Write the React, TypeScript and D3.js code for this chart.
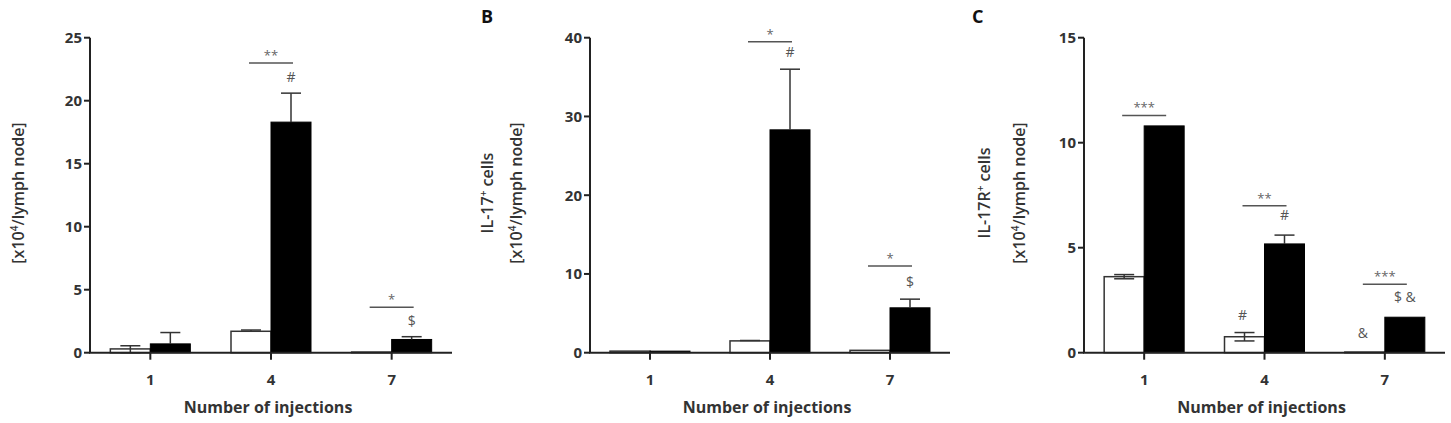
import React from "react";
import * as d3 from "d3";

const categories = ["1", "4", "7"];

// Panel A
const aWhite = [0.3, 1.7, 0.05];
const aWhiteUp = [0.25, 0.1, 0];
const aWhiteDown = [0.3, 0, 0];
const aBlack = [0.7, 18.3, 1.05];
const aBlackUp = [0.9, 2.3, 0.22];
const aTicks = [0, 5, 10, 15, 20, 25];

// Panel B
const bWhite = [0.2, 1.5, 0.3];
const bWhiteUp = [0, 0.05, 0];
const bWhiteDown = [0, 0, 0];
const bBlack = [0.2, 28.3, 5.7];
const bBlackUp = [0, 7.7, 1.1];
const bTicks = [0, 10, 20, 30, 40];

// Panel C
const cWhite = [3.62, 0.76, 0.03];
const cWhiteUp = [0.1, 0.2, 0];
const cWhiteDown = [0.1, 0.2, 0];
const cBlack = [10.8, 5.18, 1.69];
const cBlackUp = [0, 0.42, 0];
const cTicks = [0, 5, 10, 15];

type Annot = { cat: string; stars: string; lineVal: number; marksBlack?: string; marksBlackVal?: number; marksWhite?: string; marksWhiteVal?: number };

const aAnnots: Annot[] = [
  { cat: "4", stars: "**", lineVal: 23.0, marksBlack: "#", marksBlackVal: 21.5 },
  { cat: "7", stars: "*", lineVal: 3.6, marksBlack: "$", marksBlackVal: 2.1 },
];
const bAnnots: Annot[] = [
  { cat: "4", stars: "*", lineVal: 39.5, marksBlack: "#", marksBlackVal: 37.5 },
  { cat: "7", stars: "*", lineVal: 11.0, marksBlack: "$", marksBlackVal: 8.4 },
];
const cAnnots: Annot[] = [
  { cat: "1", stars: "***", lineVal: 11.3, marksBlack: "", marksBlackVal: 0 },
  { cat: "4", stars: "**", lineVal: 7.0, marksBlack: "#", marksBlackVal: 6.3, marksWhite: "#", marksWhiteVal: 1.55 },
  { cat: "7", stars: "***", lineVal: 3.26, marksBlack: "$ &", marksBlackVal: 2.42, marksWhite: "&", marksWhiteVal: 0.7 },
];

const FONT = "'Open Sans', Lato, sans-serif";
const Y_TOP = 37.7;
const Y_BOT = 352.7;
const BAR_W = 40;

type PanelProps = {
  letter: string;
  letterX: number;
  x0: number;
  x1: number;
  yMax: number;
  ticks: number[];
  white: number[];
  whiteUp: number[];
  whiteDown: number[];
  black: number[];
  blackUp: number[];
  annots: Annot[];
  labelLines: { x: number; kind: "il17" | "il17r" | "unit" }[];
};

function Panel(p: PanelProps) {
  const x = d3.scalePoint<string>().domain(categories).range([p.x0, p.x1]).padding(0.5);
  const y = d3.scaleLinear().domain([0, p.yMax]).range([Y_BOT, Y_TOP]);
  const sub = d3.scaleBand<string>().domain(["white", "black"]).range([-BAR_W, BAR_W]);
  const axisColor = "#222";
  const errColor = "#333";
  const labelCenterY = 193;
  const titleX = (p.x0 + p.x1) / 2 - 3;

  const errBar = (cx: number, v: number, up: number, down: number, key: string) => (
    <g key={key} stroke={errColor} strokeWidth={1.5}>
      {up > 0 && (
        <>
          <line x1={cx} x2={cx} y1={y(v)} y2={y(v + up)} />
          <line x1={cx - 10} x2={cx + 10} y1={y(v + up)} y2={y(v + up)} />
        </>
      )}
      {down > 0 && (
        <>
          <line x1={cx} x2={cx} y1={y(v)} y2={y(v - down)} />
          <line x1={cx - 10} x2={cx + 10} y1={y(v - down)} y2={y(v - down)} />
        </>
      )}
    </g>
  );

  return (
    <g>
      {p.letter && (
        <text x={p.letterX} y={23} fontFamily={FONT} fontWeight={700} fontSize={18} fill="#111">
          {p.letter}
        </text>
      )}
      {p.labelLines.map((l, i) => (
        <text
          key={i}
          transform={`translate(${l.x},${labelCenterY}) rotate(-90)`}
          textAnchor="middle"
          fontFamily={FONT}
          fontWeight={600}
          fontSize={16}
          fill="#333"
        >
          {l.kind === "unit" ? (
            <>
              [x10<tspan dy={-6} fontSize={10}>4</tspan>
              <tspan dy={6}>/lymph node]</tspan>
            </>
          ) : l.kind === "il17" ? (
            <>
              IL-17<tspan dy={-6} fontSize={10}>+</tspan>
              <tspan dy={6}> cells</tspan>
            </>
          ) : (
            <>
              IL-17R<tspan dy={-6} fontSize={10}>+</tspan>
              <tspan dy={6}> cells</tspan>
            </>
          )}
        </text>
      ))}
      {categories.map((c, i) => {
        const cx = x(c)!;
        const wx = cx + sub("white")!;
        const bx = cx + sub("black")!;
        return (
          <g key={c}>
            <rect x={wx} y={y(p.white[i])} width={BAR_W} height={Y_BOT - y(p.white[i])} fill="#fff" stroke="#333" strokeWidth={1.5} />
            <rect x={bx} y={y(p.black[i])} width={BAR_W} height={Y_BOT - y(p.black[i])} fill="#000" stroke="#000" strokeWidth={1} />
            {errBar(wx + BAR_W / 2, p.white[i], p.whiteUp[i], p.whiteDown[i], "we" + i)}
            {errBar(bx + BAR_W / 2, p.black[i], p.blackUp[i], 0, "be" + i)}
          </g>
        );
      })}
      {p.annots.map((a, i) => {
        const cx = x(a.cat)!;
        const ly = y(a.lineVal);
        return (
          <g key={i} fontFamily={FONT} fill="#555">
            <line x1={cx - 22} x2={cx + 22} y1={ly} y2={ly} stroke="#555" strokeWidth={1.5} />
            <text x={cx} y={ly - 3} textAnchor="middle" fontSize={13} fontWeight={400} fill="#666">
              {a.stars}
            </text>
            {a.marksBlack && (
              <text x={cx + 20} y={y(a.marksBlackVal!)} textAnchor="middle" fontSize={14}>
                {a.marksBlack}
              </text>
            )}
            {a.marksWhite && (
              <text x={cx - 22} y={y(a.marksWhiteVal!)} textAnchor="middle" fontSize={14}>
                {a.marksWhite}
              </text>
            )}
          </g>
        );
      })}
      <line x1={p.x0} x2={p.x0} y1={Y_TOP} y2={Y_BOT} stroke={axisColor} strokeWidth={2} />
      {p.ticks.map((t) => (
        <g key={t}>
          <line x1={p.x0 - 6} x2={p.x0} y1={y(t)} y2={y(t)} stroke={axisColor} strokeWidth={2} />
          <text x={p.x0 - 8} y={y(t)} dy="0.36em" textAnchor="end" fontFamily={FONT} fontWeight={700} fontSize={15} fill="#333">
            {t}
          </text>
        </g>
      ))}
      <line x1={p.x0 - 1} x2={p.x1} y1={Y_BOT} y2={Y_BOT} stroke={axisColor} strokeWidth={2} />
      {categories.map((c) => (
        <g key={c}>
          <line x1={x(c)!} x2={x(c)!} y1={Y_BOT} y2={Y_BOT + 7} stroke={axisColor} strokeWidth={2} />
          <text x={x(c)!} y={Y_BOT + 32} textAnchor="middle" fontFamily={FONT} fontWeight={700} fontSize={15} fill="#333">
            {c}
          </text>
        </g>
      ))}
      <text x={titleX} y={413} textAnchor="middle" fontFamily={FONT} fontWeight={700} fontSize={16} fill="#333">
        Number of injections
      </text>
    </g>
  );
}

export default function App() {
  return (
    <svg width={1451} height={423} style={{ position: "absolute", left: 0, top: 0, background: "#fff" }}>
      <rect width={1451} height={423} fill="#fff" />
      <Panel
        letter=""
        letterX={0}
        x0={90}
        x1={452}
        yMax={25}
        ticks={aTicks}
        white={aWhite}
        whiteUp={aWhiteUp}
        whiteDown={aWhiteDown}
        black={aBlack}
        blackUp={aBlackUp}
        annots={aAnnots}
        labelLines={[{ x: 24, kind: "unit" }]}
      />
      <Panel
        letter="B"
        letterX={481}
        x0={590}
        x1={950}
        yMax={40}
        ticks={bTicks}
        white={bWhite}
        whiteUp={bWhiteUp}
        whiteDown={bWhiteDown}
        black={bBlack}
        blackUp={bBlackUp}
        annots={bAnnots}
        labelLines={[
          { x: 493, kind: "il17" },
          { x: 522, kind: "unit" },
        ]}
      />
      <Panel
        letter="C"
        letterX={972}
        x0={1084}
        x1={1445}
        yMax={15}
        ticks={cTicks}
        white={cWhite}
        whiteUp={cWhiteUp}
        whiteDown={cWhiteDown}
        black={cBlack}
        blackUp={cBlackUp}
        annots={cAnnots}
        labelLines={[
          { x: 990, kind: "il17r" },
          { x: 1025, kind: "unit" },
        ]}
      />
    </svg>
  );
}
